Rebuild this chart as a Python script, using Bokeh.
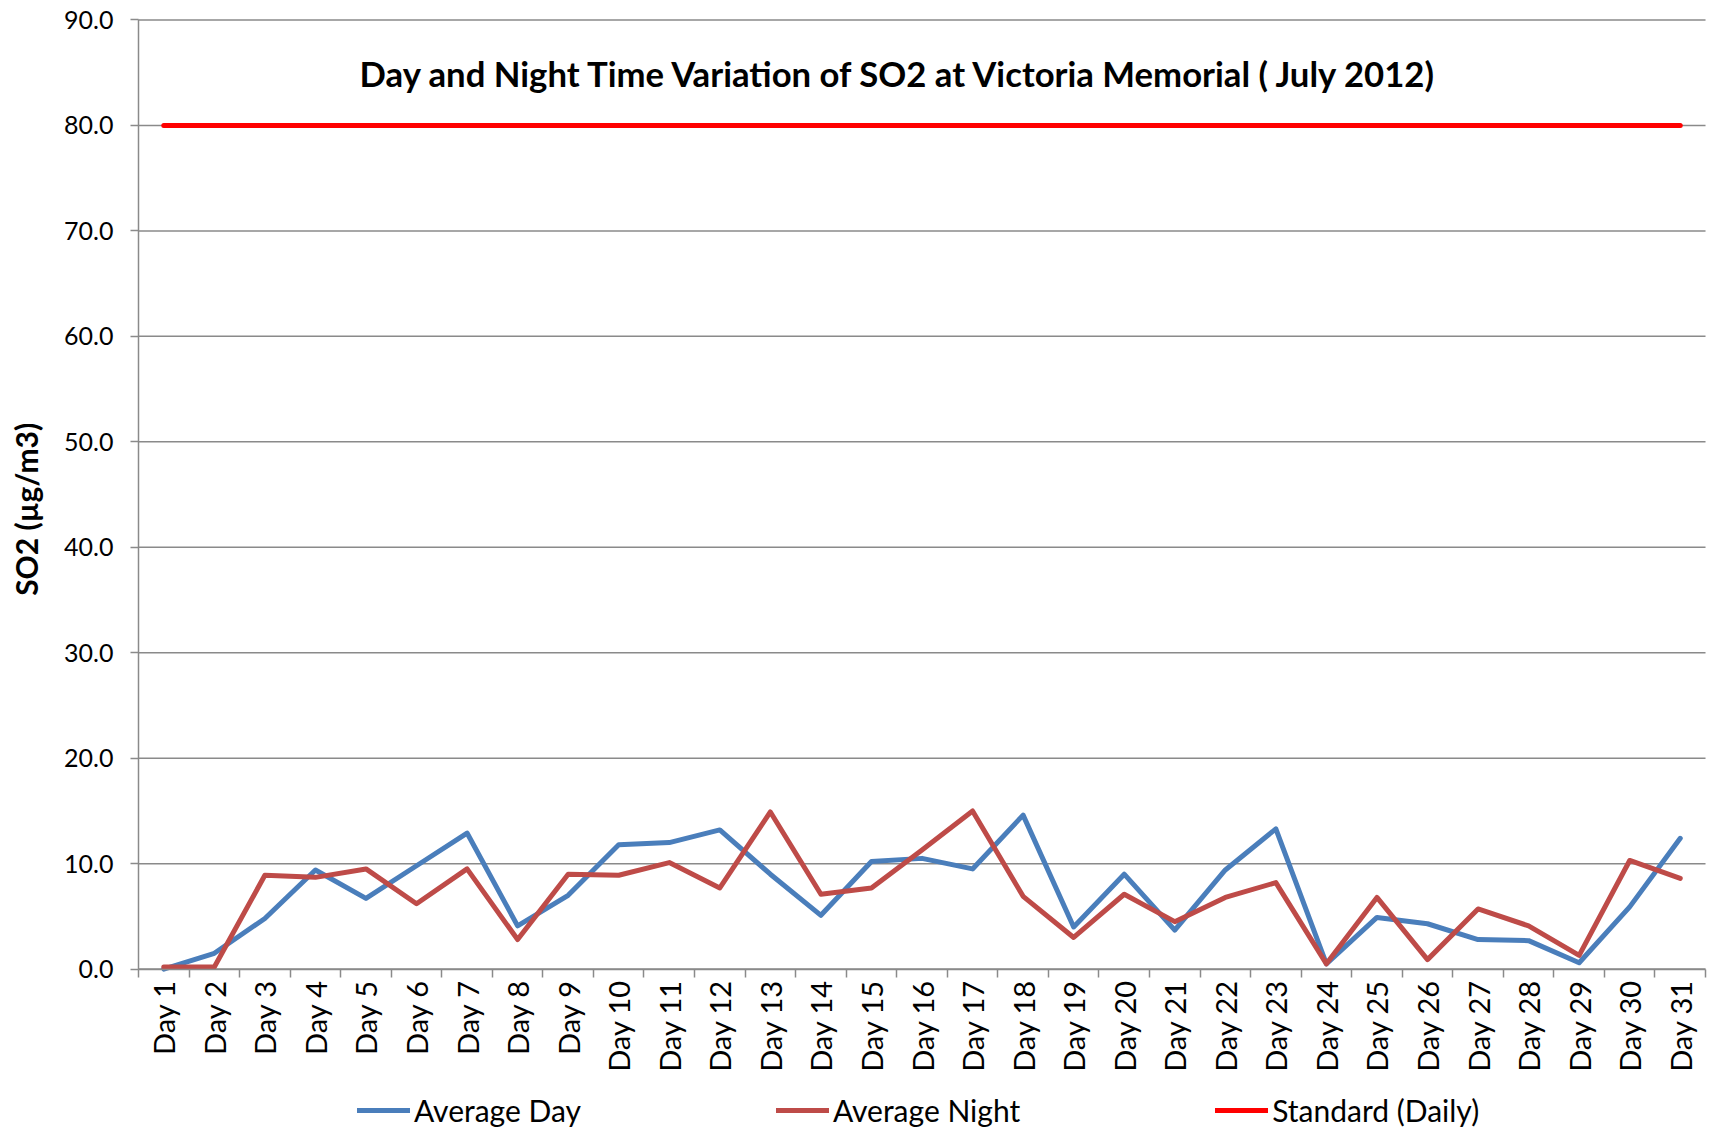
import math
from bokeh.plotting import figure
from bokeh.models import (FixedTicker, Legend, LegendItem, Label, Range1d,
                          NumeralTickFormatter)
from bokeh.embed import file_html
from bokeh.resources import INLINE

# ---------------- data ----------------
days = [f"Day {i}" for i in range(1, 32)]
average_day = [0.0, 1.5, 4.8, 9.4, 6.7, 9.8, 12.9, 4.1, 7.0, 11.8, 12.0, 13.2,
               9.0, 5.1, 10.2, 10.5, 9.5, 14.6, 4.0, 9.0, 3.7, 9.4, 13.3, 0.5,
               4.9, 4.3, 2.8, 2.7, 0.6, 5.9, 12.4]
average_night = [0.2, 0.2, 8.9, 8.7, 9.5, 6.2, 9.5, 2.8, 9.0, 8.9, 10.1, 7.7,
                 14.9, 7.1, 7.7, 11.3, 15.0, 6.9, 3.0, 7.1, 4.5, 6.8, 8.2, 0.5,
                 6.8, 0.9, 5.7, 4.1, 1.3, 10.3, 8.6]
standard_daily = [80.0] * 31
y_ticks = [0, 10, 20, 30, 40, 50, 60, 70, 80, 90]
title_text = "Day and Night Time Variation of SO2 at Victoria Memorial ( July 2012)"
y_label = "SO2 (µg/m3)"

x = list(range(1, len(days) + 1))
x_lo, x_hi = 0.5, len(days) + 0.5
y_lo, y_hi = y_ticks[0], y_ticks[-1]

FONT = "Lato"
GRID = "#8a8a8a"

# The frame covers the whole canvas; the axes are pinned at the data edges
# so that the legend and the axis title can be drawn around the plot area.
p = figure(frame_width=1717, frame_height=1136,
           min_border=0, min_border_left=0, min_border_right=0,
           min_border_top=0, min_border_bottom=0,
           x_range=Range1d(-2.230, 31.737), y_range=Range1d(-15.874, 91.849),
           output_backend="svg", toolbar_location=None, tools="")
p.title.visible = False
p.outline_line_color = None
p.background_fill_color = "white"
p.border_fill_color = "white"

# grid (horizontal lines across the plot area only)
p.xgrid.grid_line_color = None
p.ygrid.grid_line_color = None
p.segment(x0=[x_lo] * len(y_ticks), x1=[x_hi] * len(y_ticks),
          y0=y_ticks, y1=y_ticks, line_color=GRID, line_width=1.5)

# y axis
ya = p.yaxis[0]
ya.fixed_location = x_lo
ya.bounds = (y_lo, y_hi)
ya.ticker = FixedTicker(ticks=y_ticks, minor_ticks=[])
ya.formatter = NumeralTickFormatter(format="0.0")
ya.axis_line_color = GRID
ya.axis_line_width = 1.5
ya.major_tick_line_color = GRID
ya.major_tick_line_width = 1.5
ya.major_tick_out = 8
ya.major_tick_in = 0
ya.minor_tick_line_color = None
ya.major_label_text_font = FONT
ya.major_label_text_font_size = "25px"
ya.major_label_text_color = "black"
ya.major_label_standoff = 17

# x axis
xa = p.xaxis[0]
xa.fixed_location = y_lo
xa.bounds = (x_lo, x_hi)
xa.ticker = FixedTicker(ticks=x, minor_ticks=[i + 0.5 for i in range(0, len(days) + 1)])
xa.major_label_overrides = {i: d for i, d in zip(x, days)}
xa.major_label_orientation = math.pi / 2
xa.axis_line_color = GRID
xa.axis_line_width = 1.5
xa.major_tick_line_color = None
xa.major_tick_out = 0
xa.major_tick_in = 0
xa.minor_tick_line_color = GRID
xa.minor_tick_line_width = 1.5
xa.minor_tick_out = 8
xa.minor_tick_in = 0
xa.major_label_text_font = FONT
xa.major_label_text_font_size = "29px"
xa.major_label_text_color = "black"
xa.major_label_standoff = 3

# lines
r_day = p.line(x, average_day, line_color="#4A7EBB", line_width=5,
               line_join="round", line_cap="round")
r_night = p.line(x, average_night, line_color="#BE4B48", line_width=5,
                 line_join="round", line_cap="round")
r_std = p.line(x, standard_daily, line_color="#FF0000", line_width=5,
               line_join="round", line_cap="round")

# chart title inside the plot area
p.add_layout(Label(x=15.57, y=84.9, text=title_text, text_align="center",
                   text_baseline="middle", text_font=FONT, text_font_style="bold",
                   text_font_size="34.7px", text_color="black"))

# y axis title
p.add_layout(Label(x=-1.72, y=43.6, text=y_label, angle=math.pi / 2,
                   text_align="center", text_baseline="middle",
                   text_font=FONT, text_font_style="bold",
                   text_font_size="30px", text_color="black"))

legend = Legend(items=[LegendItem(label="Average Day", renderers=[r_day]),
                       LegendItem(label="Average Night", renderers=[r_night]),
                       LegendItem(label="Standard (Daily)", renderers=[r_std])],
                orientation="horizontal", location=(357, 8),
                spacing=195, glyph_width=53, glyph_height=20, label_standoff=4,
                label_text_font=FONT, label_text_font_size="30px",
                label_text_color="black", border_line_color=None,
                background_fill_alpha=0, padding=2, margin=0)
p.add_layout(legend, "center")

open("out.html", "w").write(file_html(p, INLINE))
